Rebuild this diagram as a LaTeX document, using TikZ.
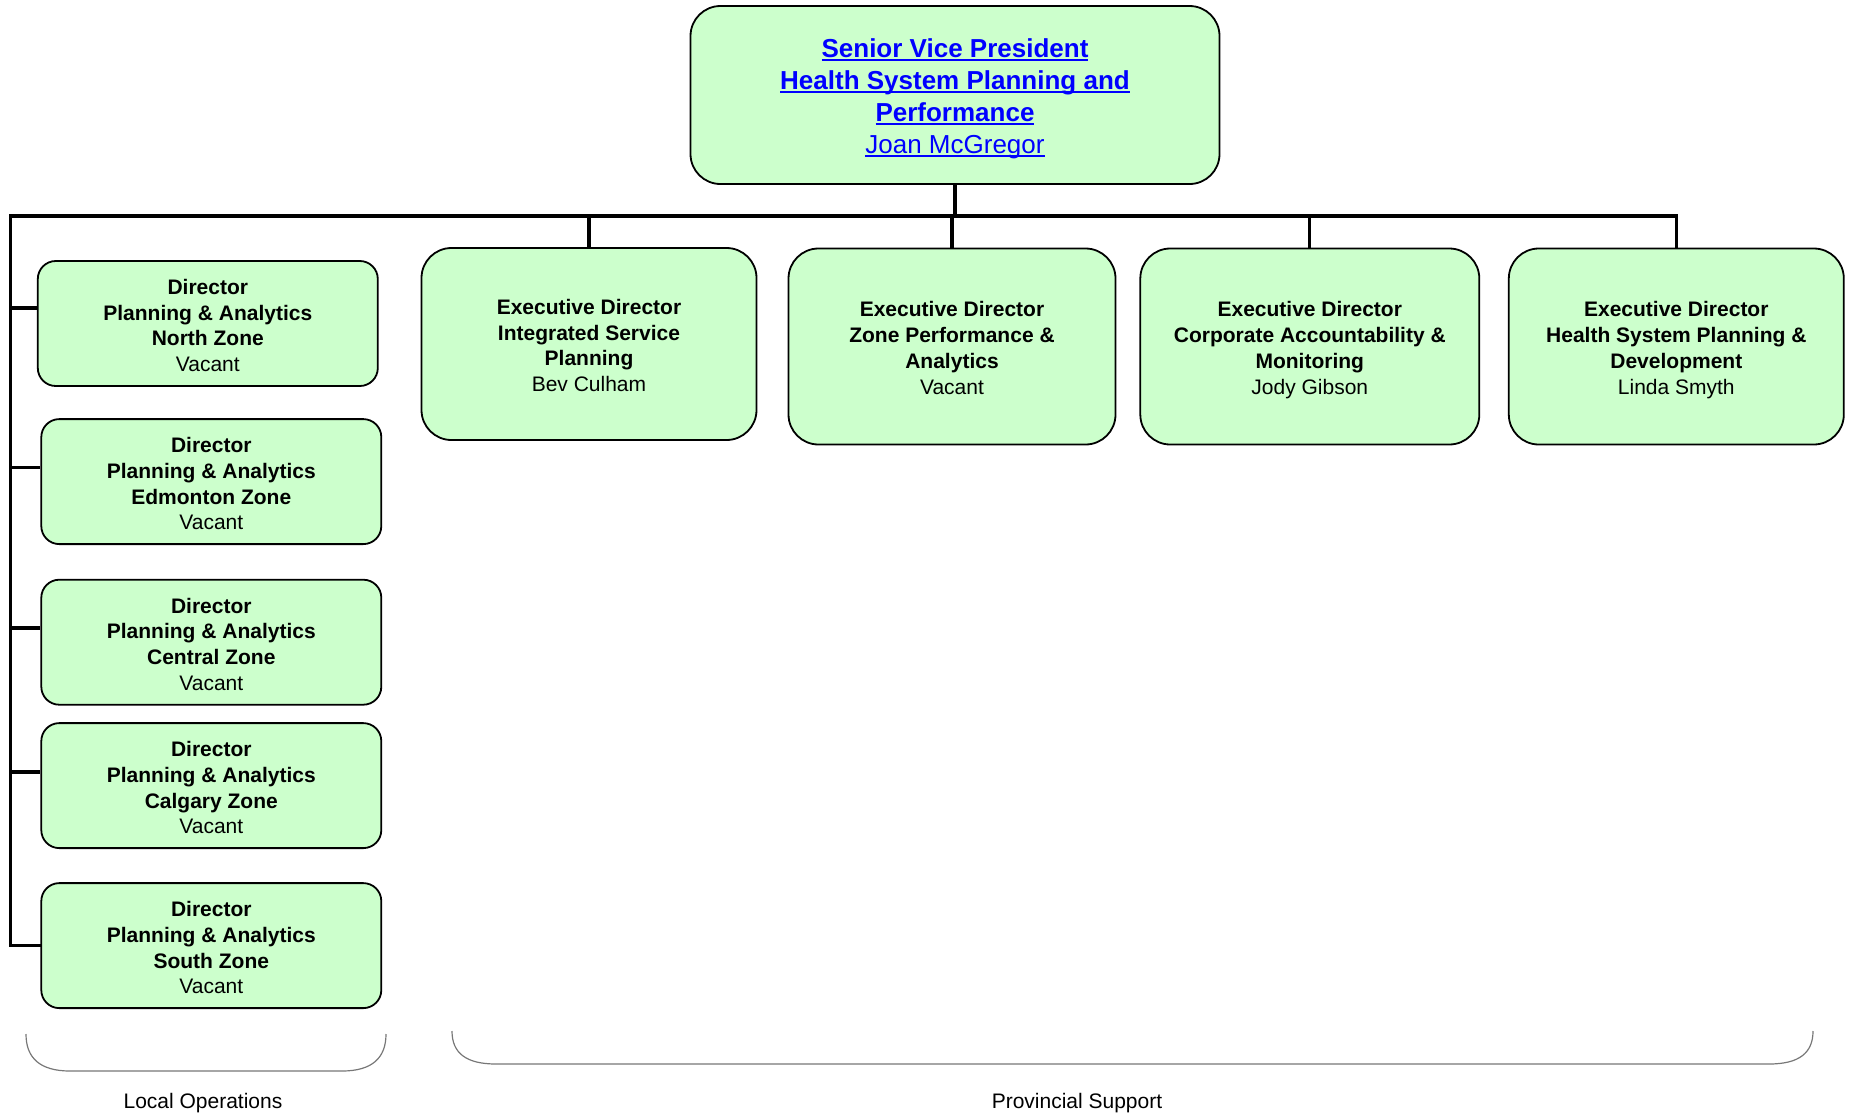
\documentclass[tikz,border=0pt]{standalone}
\usepackage{fontspec}
\setmainfont{Liberation Sans}
\definecolor{boxgreen}{HTML}{CCFFCC}
\definecolor{linkblue}{HTML}{0000FF}
\definecolor{bracegray}{HTML}{777777}
\newcommand\ulink[1]{\setbox0\hbox{#1}\rlap{\rule[-1.6pt]{\wd0}{0.8pt}}\box0}
\newcommand\dirtext[1]{\rule{0pt}{9.6pt}\textbf{Director}\\\textbf{Planning \& Analytics}\\\textbf{#1}\\Vacant}
\newcommand\exectext[3]{\rule{0pt}{11.3pt}\textbf{Executive Director}\\\textbf{#1}\\\textbf{#2}\\#3\rule[-2.3pt]{0pt}{2.3pt}}
\begin{document}
\begin{tikzpicture}[x=0.5pt,y=-0.5pt,
  orgbox/.style={draw=black, line width=0.9pt, fill=boxgreen, inner sep=0pt, align=center,
    font=\fontsize{10.5}{12.9}\selectfont},
  dirbox/.style={orgbox, rounded corners=9pt, minimum width=170pt, minimum height=62.5pt},
  execbox/.style={orgbox, rounded corners=15pt, minimum height=98pt},
  bus/.style={line width=1.7pt},
  drop/.style={line width=1.6pt},
  bracepath/.style={draw=bracegray, line width=0.6pt},
  bracelabel/.style={font=\fontsize{10.5}{12.9}\selectfont, inner sep=0pt}]
\useasboundingbox (0,0) rectangle (1851,1114);

% top box
\node[orgbox, rounded corners=15pt, minimum width=264.5pt, minimum height=89pt,
  font=\fontsize{13}{16}\selectfont, text=linkblue] (svp) at (955,95)
  {\rule{0pt}{13.5pt}\textbf{\ulink{Senior Vice President}}\\\textbf{\ulink{Health System Planning and}}\\\textbf{\ulink{Performance}}\\\ulink{Joan McGregor}};

% director boxes
\node[dirbox] (d1) at (207.8,323.5) {\dirtext{North Zone}};
\node[dirbox] (d2) at (211.3,481.6) {\dirtext{Edmonton Zone}};
\node[dirbox] (d3) at (211.3,642.2) {\dirtext{Central Zone}};
\node[dirbox] (d4) at (211.3,785.6) {\dirtext{Calgary Zone}};
\node[dirbox] (d5) at (211.3,945.6) {\dirtext{South Zone}};

% executive boxes
\node[execbox, minimum width=167.5pt, minimum height=96pt] (e1) at (589,344) {\exectext{Integrated Service}{Planning}{Bev Culham}};
\node[execbox, minimum width=163.5pt] (e2) at (952,346.5) {\exectext{Zone Performance \&}{Analytics}{Vacant}};
\node[execbox, minimum width=169.5pt] (e3) at (1309.8,346.5) {\exectext{Corporate Accountability \&}{Monitoring}{Jody Gibson}};
\node[execbox, minimum width=167.5pt] (e4) at (1676.3,346.5) {\exectext{Health System Planning \&}{Development}{Linda Smyth}};

% bus coordinates
\coordinate (busL) at (10.6,216);
\coordinate (busR) at (1676.3,216);
\coordinate (t1) at (10.6,308);
\coordinate (t2) at (10.6,467.5);
\coordinate (t3) at (10.6,628);
\coordinate (t4) at (10.6,772);
\coordinate (t5) at (10.6,945.6);

% connectors
\draw[bus] (svp.south) -- (svp.south |- busL);
\draw[bus, line cap=rect] (busR) -- (busL) -- (t5) -- (d5.west);
\draw[bus] (t1) -- (t1 -| d1.west);
\draw[bus] (t2) -- (t2 -| d2.west);
\draw[bus] (t3) -- (t3 -| d3.west);
\draw[bus] (t4) -- (t4 -| d4.west);
\draw[drop] (e1.north |- busL) -- (e1.north);
\draw[drop] (e2.north |- busL) -- (e2.north);
\draw[drop] (e3.north |- busL) -- (e3.north);
\draw[bus] (e4.north |- busL) -- (e4.north);

% brackets
\draw[bracepath] (26,1034) .. controls (26,1058) and (40,1071) .. (70,1071) -- (342,1071) .. controls (372,1071) and (386,1058) .. (386,1034);
\draw[bracepath] (452,1031) .. controls (452,1053) and (466,1064) .. (496,1064) -- (1769,1064) .. controls (1799,1064) and (1813,1053) .. (1813,1031);
\node[bracelabel] (lo) at (203,1103) {Local Operations};
\node[bracelabel] (ps) at (1077,1103) {Provincial Support};
\end{tikzpicture}
\end{document}
